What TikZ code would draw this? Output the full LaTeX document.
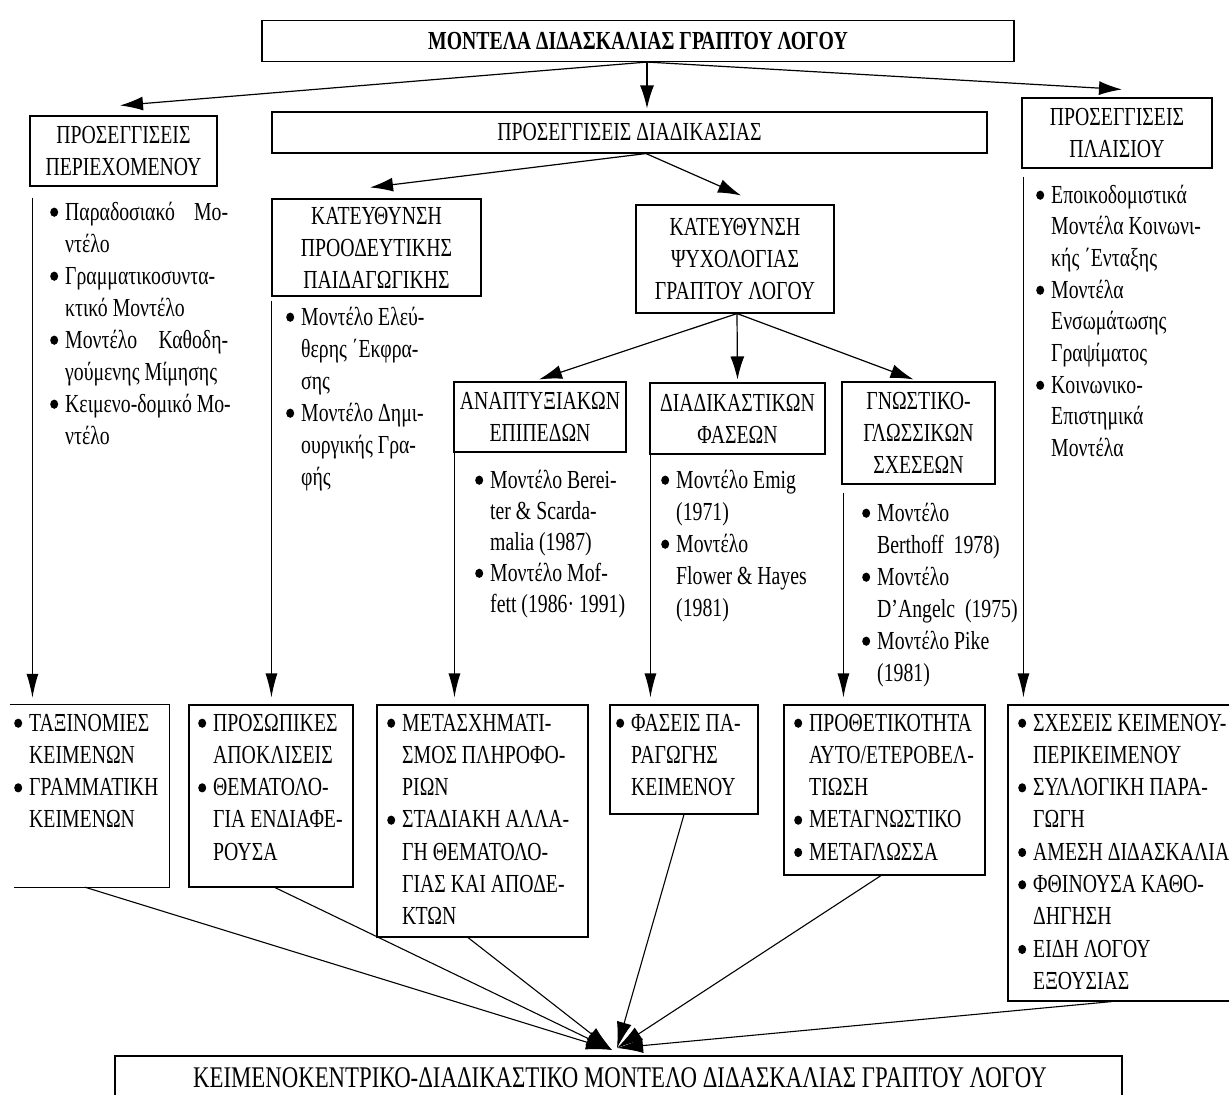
\documentclass[tikz,border=0pt]{standalone}
\usepackage{fontspec}
\setmainfont{Liberation Serif}[FakeStretch=0.76]
\usetikzlibrary{arrows.meta,calc}
\newcommand{\bdot}{\tikz[baseline=0pt]{\useasboundingbox (0pt,0pt) rectangle (8pt,12pt);\fill (4pt,7.8pt) ellipse[x radius=4pt,y radius=4.6pt];}}
\newcommand{\bitem}[1]{\makebox[15pt][l]{\bdot}#1}
\newcommand{\bcont}[1]{\hspace*{15pt}#1}
\newcommand{\jst}[2]{\makebox[#1pt][s]{#2}}
\newcommand{\blist}[2]{{\renewcommand{\arraystretch}{#1}\begin{tabular}[t]{@{}l@{}}#2\end{tabular}}}
\begin{document}
\begin{tikzpicture}[x=1pt,y=-1pt,font=\fontsize{26}{32}\selectfont,
  hbox/.style={draw,line width=1.1pt,inner sep=0pt,align=center},
  lst/.style={anchor=base west,inner sep=0pt},
  arr/.style={line width=1.2pt,-{Latex[length=23pt,width=14pt]}},
  vln/.style={line width=1.1pt,-{Latex[length=24pt,width=12pt]},shorten >=7pt},
  barr/.style={line width=1.1pt,-{Latex[length=26pt,width=15pt]}}]
\useasboundingbox (0,0) rectangle (1229,1095);
\fill[white] (0,0) rectangle (1229,1095);
\clip (0,0) rectangle (1229,1095);

% header boxes
\node[hbox,minimum width=752pt,minimum height=41pt,font=\fontsize{26}{32}\selectfont\bfseries] (title) at (638,41) {ΜΟΝΤΕΛΑ ΔΙΔΑΣΚΑΛΙΑΣ ΓΡΑΠΤΟΥ ΛΟΓΟΥ};
\node[hbox,minimum width=715pt,minimum height=41pt] (proc) at (629.5,132.5) {ΠΡΟΣΕΓΓΙΣΕΙΣ ΔΙΑΔΙΚΑΣΙΑΣ};
\node[hbox,minimum width=187pt,minimum height=70pt] (cont) at (123.5,151) {ΠΡΟΣΕΓΓΙΣΕΙΣ\\ΠΕΡΙΕΧΟΜΕΝΟΥ};
\node[hbox,minimum width=190pt,minimum height=70pt] (ctx) at (1117,133) {ΠΡΟΣΕΓΓΙΣΕΙΣ\\ΠΛΑΙΣΙΟΥ};
\node[hbox,minimum width=209pt,minimum height=97pt] (prog) at (376.5,247.5) {ΚΑΤΕΥΘΥΝΣΗ\\ΠΡΟΟΔΕΥΤΙΚΗΣ\\ΠΑΙΔΑΓΩΓΙΚΗΣ};
\node[hbox,minimum width=198pt,minimum height=108pt] (psy) at (735,259) {ΚΑΤΕΥΘΥΝΣΗ\\ΨΥΧΟΛΟΓΙΑΣ\\ΓΡΑΠΤΟΥ ΛΟΓΟΥ};
\node[hbox,minimum width=172pt,minimum height=70pt] (dev) at (540,417) {ΑΝΑΠΤΥΞΙΑΚΩΝ\\ΕΠΙΠΕΔΩΝ};
\node[hbox,minimum width=175pt,minimum height=71pt] (phase) at (737.5,418.5) {ΔΙΑΔΙΚΑΣΤΙΚΩΝ\\ΦΑΣΕΩΝ};
\node[hbox,minimum width=153pt,minimum height=102pt] (cog) at (918.5,433) {ΓΝΩΣΤΙΚΟ-\\ΓΛΩΣΣΙΚΩΝ\\ΣΧΕΣΕΩΝ};

% bottom boxes
\node[inner sep=0pt,minimum width=159pt,minimum height=182pt] (b1) at (89.5,796) {};
\draw[line width=1.1pt] (b1.north west) -- (b1.north east) -- (b1.south east) -- ($(b1.south west)+(4,0)$);
\node[hbox,minimum width=164pt,minimum height=182pt] (b2) at (271,796) {};
\node[hbox,minimum width=211pt,minimum height=232pt] (b3) at (482.5,821) {};
\node[hbox,minimum width=148pt,minimum height=109pt] (b4) at (684,759.5) {};
\node[hbox,minimum width=201pt,minimum height=170pt] (b5) at (884.5,790) {};
\node[hbox,minimum width=232pt,minimum height=296pt] (b6) at (1124,853) {};
\node[hbox,minimum width=1007pt,minimum height=70pt] (final) at (618.5,1091) {};
\node[inner sep=0pt,font=\fontsize{30}{36}\selectfont] (ftxt) at (620,1078) {ΚΕΙΜΕΝΟΚΕΝΤΡΙΚΟ-ΔΙΑΔΙΚΑΣΤΙΚΟ ΜΟΝΤΕΛΟ ΔΙΔΑΣΚΑΛΙΑΣ ΓΡΑΠΤΟΥ ΛΟΓΟΥ};

% lists
\node[lst] (t1) at (50,220) {\blist{1}{%
\bitem{\jst{163}{Παραδοσιακό Μο-}}\\
\bcont{ντέλο}\\
\bitem{Γραμματικοσυντα-}\\
\bcont{κτικό Μοντέλο}\\
\bitem{\jst{163}{Μοντέλο Καθοδη-}}\\
\bcont{γούμενης Μίμησης}\\
\bitem{Κειμενο-δομικό Μο-}\\
\bcont{ντέλο}}};
\node[lst] (t2) at (286,325) {\blist{1}{%
\bitem{Μοντέλο Ελεύ-}\\
\bcont{θερης ΄Εκφρα-}\\
\bcont{σης}\\
\bitem{Μοντέλο Δημι-}\\
\bcont{ουργικής Γρα-}\\
\bcont{φής}}};
\node[lst] (t3) at (475,488) {\blist{0.97}{%
\bitem{Μοντέλο Berei-}\\
\bcont{ter \& Scarda-}\\
\bcont{malia (1987)}\\
\bitem{Μοντέλο Mof-}\\
\bcont{fett (1986· 1991)}}};
\node[lst] (t4) at (661,488) {\blist{1}{%
\bitem{Μοντέλο Emig}\\
\bcont{(1971)}\\
\bitem{Μοντέλο}\\
\bcont{Flower \& Hayes}\\
\bcont{(1981)}}};
\node[lst] (t5) at (862,521) {\blist{1}{%
\bitem{Μοντέλο}\\
\bcont{Berthoff\ \ 1978)}\\
\bitem{Μοντέλο}\\
\bcont{D’Angelc\ \ (1975)}\\
\bitem{Μοντέλο Pike}\\
\bcont{(1981)}}};
\node[lst] (t6) at (1036,203) {\blist{0.99}{%
\bitem{Εποικοδομιστικά}\\
\bcont{Μοντέλα Κοινωνι-}\\
\bcont{κής ΄Ενταξης}\\
\bitem{Μοντέλα}\\
\bcont{Ενσωμάτωσης}\\
\bcont{Γραψίματος}\\
\bitem{Κοινωνικο-}\\
\bcont{Επιστημικά}\\
\bcont{Μοντέλα}}};

\node[lst] (u1) at (14,731) {\blist{1.01}{%
\bitem{ΤΑΞΙΝΟΜΙΕΣ}\\
\bcont{ΚΕΙΜΕΝΩΝ}\\
\bitem{ΓΡΑΜΜΑΤΙΚΗ}\\
\bcont{ΚΕΙΜΕΝΩΝ}}};
\node[lst] (u2) at (198,731) {\blist{1.01}{%
\bitem{ΠΡΟΣΩΠΙΚΕΣ}\\
\bcont{ΑΠΟΚΛΙΣΕΙΣ}\\
\bitem{ΘΕΜΑΤΟΛΟ-}\\
\bcont{ΓΙΑ ΕΝΔΙΑΦΕ-}\\
\bcont{ΡΟΥΣΑ}}};
\node[lst] (u3) at (387,731) {\blist{1.01}{%
\bitem{ΜΕΤΑΣΧΗΜΑΤΙ-}\\
\bcont{ΣΜΟΣ ΠΛΗΡΟΦΟ-}\\
\bcont{ΡΙΩΝ}\\
\bitem{ΣΤΑΔΙΑΚΗ ΑΛΛΑ-}\\
\bcont{ΓΗ ΘΕΜΑΤΟΛΟ-}\\
\bcont{ΓΙΑΣ ΚΑΙ ΑΠΟΔΕ-}\\
\bcont{ΚΤΩΝ}}};
\node[lst] (u4) at (616,731) {\blist{1.01}{%
\bitem{ΦΑΣΕΙΣ ΠΑ-}\\
\bcont{ΡΑΓΩΓΗΣ}\\
\bcont{ΚΕΙΜΕΝΟΥ}}};
\node[lst] (u5) at (794,731) {\blist{1.01}{%
\bitem{ΠΡΟΘΕΤΙΚΟΤΗΤΑ}\\
\bcont{ΑΥΤΟ/ΕΤΕΡΟΒΕΛ-}\\
\bcont{ΤΙΩΣΗ}\\
\bitem{ΜΕΤΑΓΝΩΣΤΙΚΟ}\\
\bitem{ΜΕΤΑΓΛΩΣΣΑ}}};
\node[lst] (u6) at (1018,731) {\blist{1.01}{%
\bitem{ΣΧΕΣΕΙΣ ΚΕΙΜΕΝΟΥ-}\\
\bcont{ΠΕΡΙΚΕΙΜΕΝΟΥ}\\
\bitem{ΣΥΛΛΟΓΙΚΗ ΠΑΡΑ-}\\
\bcont{ΓΩΓΗ}\\
\bitem{ΑΜΕΣΗ ΔΙΔΑΣΚΑΛΙΑ}\\
\bitem{ΦΘΙΝΟΥΣΑ ΚΑΘΟ-}\\
\bcont{ΔΗΓΗΣΗ}\\
\bitem{ΕΙΔΗ ΛΟΓΟΥ}\\
\bcont{ΕΞΟΥΣΙΑΣ}}};

% connectors
\coordinate (t0) at ($(title.south)+(9,0)$);
\coordinate (p0) at ($(proc.south)+(16.5,0)$);
\coordinate (q0) at ($(psy.south)+(2,0)$);
\draw[arr,shorten >=3pt] (t0) -- (proc.north -| t0);
\draw[arr] (t0) -- ($(cont.north)+(-3.5,-10)$);
\draw[arr] (t0) -- ($(ctx.north)+(5,-8)$);
\draw[arr] (p0) -- ($(prog.north)+(-6.5,-11)$);
\draw[arr] (p0) -- ($(psy.north)+(6,-9)$);
\draw[arr] (q0) -- ($(dev.north)+(-1,-2)$);
\draw[arr] (q0) -- ($(phase.north)+(0,-3)$);
\draw[arr] (q0) -- ($(cog.north)+(-5,-2)$);

\coordinate (c1) at ($(cont.south west)+(3,11)$);
\coordinate (c2) at ($(prog.south west)+(0,4)$);
\coordinate (c3) at ($(dev.south west)+(1,0)$);
\coordinate (c4) at ($(phase.south west)+(1,0)$);
\coordinate (c5) at ($(cog.south west)+(2,8)$);
\coordinate (c6) at ($(ctx.south west)+(2,8)$);
\draw[vln] (c1) -- (c1 |- b1.north);
\draw[vln] (c2) -- (c2 |- b2.north);
\draw[vln] (c3) -- (c3 |- b3.north);
\draw[vln] (c4) -- (c4 |- b4.north);
\draw[vln] (c5) -- (c5 |- b5.north);
\draw[vln] (c6) -- (c6 |- b6.north);

\coordinate (fl) at (612,1050);
\coordinate (fr) at (617,1048);
\draw[barr] ($(b1.south)+(-4.5,0)$) -- (fl);
\draw[barr] ($(b2.south)+(4,0)$) -- (fl);
\draw[barr] ($(b3.south)+(-14.5,0)$) -- (fl);
\draw[barr] (b4.south) -- (fr);
\draw[barr] ($(b5.south)+(-3.5,0)$) -- (fr);
\draw[barr] ($(b6.south)+(-12,0)$) -- (fr);
\end{tikzpicture}
\end{document}
